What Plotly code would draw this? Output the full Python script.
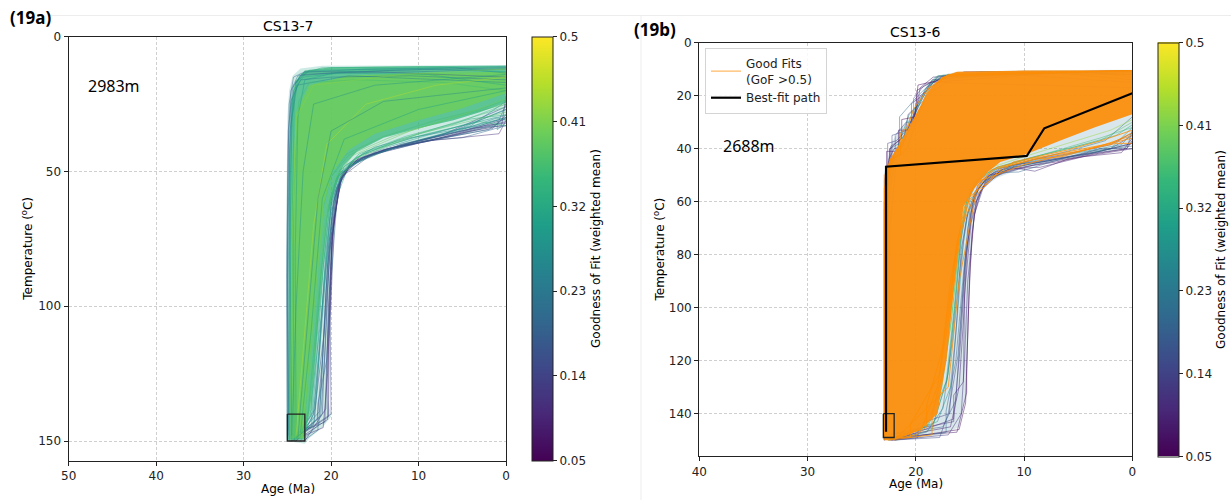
import plotly.graph_objects as go
from plotly.colors import sample_colorscale

W, H = 1231, 500
GOF_MIN, GOF_MAX = 0.05, 0.5
CB_TICKS = [0.05, 0.14, 0.23, 0.32, 0.41, 0.5]
CB_TICKTEXT = ["0.05", "0.14", "0.23", "0.32", "0.41", "0.5"]

# ---------------- CS13-7 (2983 m) ----------------
# constraint box (age Ma, temperature degC)
A_BOX_AGE = [25, 23, 23, 25, 25]
A_BOX_T = [140, 140, 150, 150, 140]

# outer extent of all accepted paths
A_OUT_AGE = [25.1, 25.1, 25.0, 24.8, 24.4, 23.5, 21.0, 10.0, 0.0, 0.0, 0.6, 2.0, 4.0, 7.0, 10.0,
             13.0, 15.5, 17.5, 18.6, 19.3, 19.8, 20.1, 20.3, 20.3, 20.0, 21.0, 22.5, 23.0, 25.1]
A_OUT_T = [150, 60, 30, 20, 14.5, 11.8, 10.8, 10.6, 10.6, 31, 33, 34, 35.5, 37.5, 38.8,
           40.5, 42.5, 46, 52, 60, 75, 95, 120, 135, 141, 145, 149, 151, 150]
A_OUT_GOF = 0.30

# dense core of the path ensemble
A_CORE_AGE = [24.9, 24.8, 24.6, 24.1, 23.0, 20.0, 10.0, 0.0, 0.0, 3.0, 6.0, 10.0, 14.0, 17.0,
              18.6, 19.6, 20.4, 21.0, 21.6, 22.3, 23.0, 24.9]
A_CORE_T = [149.5, 60, 25, 16.5, 12.5, 11.3, 11.0, 11.0, 24.5, 28, 31, 34, 37.5, 42.5,
            48, 56, 66, 85, 110, 135, 149.5, 149.5]
A_CORE_GOF = 0.35

# brightest part of the core
A_INNER_AGE = [24.6, 24.5, 24.0, 22.5, 18.0, 10.0, 0.0, 0.0, 5.0, 10.0, 15.0, 18.0, 19.8,
               20.8, 21.6, 22.5, 23.2, 24.6]
A_INNER_T = [149, 60, 28, 18, 14.5, 13.5, 13, 21, 26.5, 31, 36, 42, 50, 62, 90, 125, 149, 149]
A_INNER_GOF = 0.40

# individual thermal histories: (GoF, ages, temperatures) - lower / right fringe
A_FRINGE = [
    (0.12, [23.6, 20.3, 20.2, 19.8, 19.0, 17.3, 13.0, 8.0, 3.0, 0.0],
           [148, 141, 112, 72, 53, 46.5, 41.5, 38.0, 33.5, 30.5]),
    (0.15, [24.2, 20.0, 20.1, 19.6, 18.7, 16.8, 12.0, 6.5, 2.0, 0.0],
           [149, 140, 105, 66, 51, 45, 40.5, 37, 33, 31.5]),
    (0.18, [23.9, 20.7, 20.5, 20.0, 19.3, 18.0, 14.5, 10.0, 5.0, 1.0, 0.0],
           [147, 143, 120, 80, 56, 48, 43, 39.5, 36, 32.5, 25]),
    (0.10, [24.5, 20.9, 20.4, 19.9, 18.9, 17.0, 12.5, 9.0, 4.0, 0.5, 0.0],
           [150, 145, 125, 75, 52, 45.5, 41, 38.5, 35, 33, 22]),
    (0.22, [23.3, 21.3, 20.8, 20.3, 19.5, 18.3, 15.0, 11.0, 6.0, 0.0],
           [146, 139, 110, 78, 57, 49, 43, 40, 35, 27]),
    (0.14, [24.0, 21.6, 21.0, 20.4, 19.6, 18.5, 16.0, 12.0, 7.0, 0.0],
           [150, 142, 120, 85, 60, 50, 44, 40.5, 36, 26]),
    (0.25, [23.5, 22.0, 21.3, 20.6, 19.9, 19.0, 16.5, 11.0, 4.0, 0.0],
           [149, 140, 115, 80, 60, 51, 45, 39.5, 33, 24]),
    (0.20, [23.2, 21.5, 21.5, 20.5, 20.0, 19.2, 17.8, 14.0, 9.0, 5.0, 0.0],
           [150, 146, 136, 120, 90, 55, 47, 42, 38.5, 37.5, 33]),
    (0.30, [23.0, 22.2, 22.2, 21.0, 20.0, 18.0, 12.0, 6.0, 0.0],
           [145, 145, 134, 100, 65, 48, 40, 35, 30]),
    (0.16, [24.6, 22.0, 21.8, 20.8, 20.0, 18.8, 15.5, 10.0, 1.5, 0.0],
           [150, 144, 137, 110, 75, 52, 44, 39.5, 34, 29]),
    (0.13, [23.0, 20.6, 20.3, 19.7, 18.8, 16.5, 12.0, 7.0, 2.5, 0.0],
           [150, 138, 100, 68, 52, 45, 40, 36.5, 33, 32]),
    (0.19, [24.3, 21.2, 20.7, 20.2, 19.4, 17.8, 14.0, 9.5, 4.5, 0.0],
           [149, 141, 118, 82, 57, 47.5, 42, 38, 34.5, 30]),
    (0.24, [23.7, 21.8, 21.2, 20.5, 19.7, 18.6, 15.5, 10.5, 5.5, 0.0],
           [148, 138, 112, 84, 61, 50, 44, 39, 35, 29]),
    (0.11, [24.1, 20.4, 20.3, 19.9, 19.1, 17.6, 13.5, 8.5, 0.8, 0.0],
           [150, 142, 115, 76, 55, 46.5, 41.5, 38.5, 36, 31]),
    (0.17, [23.4, 21.0, 20.8, 20.2, 19.3, 17.9, 14.8, 9.0, 3.5, 0.0],
           [147, 140, 122, 80, 56, 47.5, 42.5, 38, 33.8, 33]),
    (0.21, [23.1, 21.4, 21.1, 20.6, 19.8, 18.7, 16.2, 12.5, 8.0, 2.0, 0.0],
           [149, 144, 128, 95, 62, 50.5, 44.5, 41, 38, 34.5, 30]),
    (0.26, [23.5, 22.0, 21.0, 20.0, 18.5, 15.0, 11.0, 3.0, 1.0, 1.0, 0.0],
           [150, 140, 100, 62, 48, 41, 37.5, 33, 31, 34.5, 32]),
    (0.36, [24.1, 22.6, 21.9, 21.2, 20.4, 19.4, 17.2, 12.5, 7.0, 2.0, 0.0],
           [150, 139, 114, 89, 66, 53, 45, 38.5, 33, 28, 26]),
    (0.39, [23.9, 22.9, 22.3, 21.7, 21.0, 20.0, 18.0, 13.0, 6.0, 0.0],
           [149, 136, 110, 85, 64, 52, 44, 37, 30, 25]),
    (0.33, [24.3, 22.4, 21.8, 21.1, 20.3, 19.3, 16.8, 11.5, 4.0, 0.0],
           [150, 141, 117, 88, 63, 51.5, 43.5, 37, 30.5, 29]),
    (0.29, [23.8, 22.1, 21.5, 20.9, 20.1, 19.1, 16.4, 11.0, 5.0, 1.2, 0.0],
           [148, 139, 113, 86, 62, 51, 43.5, 37.8, 33, 30, 31]),
    (0.41, [24.5, 23.0, 22.4, 21.8, 21.1, 20.2, 18.2, 14.0, 8.0, 3.0, 0.0],
           [150, 140, 115, 90, 66, 53, 43.5, 37, 31, 27, 23.5]),
    (0.34, [23.7, 22.2, 21.6, 20.9, 20.1, 19.0, 16.0, 9.0, 3.0, 0.0],
           [149, 138, 112, 85, 60, 49.5, 42.5, 36, 31.5, 33]),
]

# histories running through the core and along the upper / left edge
A_CORE_PATHS = [
    (0.35, [23.6, 22.3, 21.7, 21.0, 20.2, 19.2, 17.0, 12.0, 6.0, 0.0],
           [149, 137, 112, 88, 64, 52, 44.5, 38, 32.5, 25]),
    (0.28, [24.4, 21.9, 21.4, 20.8, 20.0, 18.9, 16.0, 10.0, 3.0, 0.0],
           [150, 143, 120, 90, 63, 51, 43.5, 37.5, 31, 27]),
    (0.40, [24.2, 22.8, 22.2, 21.6, 20.9, 19.9, 17.5, 11.0, 5.0, 0.0],
           [150, 140, 115, 90, 68, 54, 44, 35, 29, 23]),
    (0.38, [24.0, 22.5, 22.0, 21.4, 20.7, 19.7, 17.0, 10.0, 0.0],
           [149, 140, 120, 95, 70, 55, 45, 36, 28]),
    (0.22, [24.8, 25.0, 24.9, 24.6, 23.8, 20.0, 10.0, 0.0],
           [150, 100, 40, 20, 14.5, 13.5, 13.0, 12.0]),
    (0.28, [24.5, 24.7, 24.5, 24.0, 22.5, 12.0, 0.0],
           [148, 80, 30, 17, 12.5, 12, 11]),
    (0.18, [25.0, 25.0, 24.8, 24.3, 23.0, 15.0, 0.0],
           [149, 70, 25, 15, 13, 13, 15]),
    (0.33, [24.2, 24.4, 24.2, 23.6, 21.0, 0.0],
           [150, 60, 22, 14, 11.5, 10.8]),
    (0.25, [24.9, 24.9, 24.7, 23.9, 18.0, 0.0],
           [146, 90, 35, 18, 14.5, 17]),
    (0.30, [24.0, 24.1, 23.8, 23.0, 19.0, 8.0, 0.0],
           [149, 80, 30, 16, 13, 12, 13]),
    (0.27, [24.8, 24.8, 24.3, 23.0, 16.0, 6.0, 0.0],
           [150, 45, 18, 13.2, 12.0, 11.5, 13.5]),
    (0.23, [24.9, 25.0, 24.6, 23.5, 20.0, 11.0, 0.0],
           [148, 80, 24, 16, 15, 14.5, 16]),
    (0.31, [24.6, 24.7, 24.3, 23.2, 19.0, 9.0, 0.0],
           [150, 55, 20, 15, 13.5, 14, 18]),
    (0.36, [24.3, 24.3, 23.7, 22.5, 17.0, 7.0, 0.0],
           [149, 60, 24, 17, 16, 17, 20]),
    (0.20, [25.0, 25.1, 24.9, 24.4, 23.4, 13.0, 0.0],
           [150, 90, 35, 19, 14, 12.5, 11.5]),
    (0.28, [24.5, 24.0, 23.2, 22.0, 15.0, 0.0],
           [150, 100, 50, 25, 18, 14]),
    (0.45, [24.0, 23.0, 22.0, 20.5, 16.0, 8.0, 0.0],
           [148, 110, 70, 40, 25, 18, 15]),
    (0.26, [23.8, 22.5, 21.5, 20.0, 14.0, 0.0],
           [149, 100, 60, 35, 24, 19]),
    (0.42, [24.7, 24.5, 24.0, 22.0, 12.0, 0.0],
           [150, 80, 30, 18, 14, 12]),
    (0.30, [23.5, 22.3, 21.0, 18.5, 10.0, 0.0],
           [147, 110, 60, 38, 27, 20]),
]

# ---------------- CS13-6 (2688 m) ----------------
B_BOX_AGE = [23, 22, 22, 23, 23]
B_BOX_T = [140, 140, 149, 149, 140]

B_BEST_AGE = [22.75, 22.75, 9.75, 8.13, 0.0]
B_BEST_T = [146.8, 46.8, 42.75, 32.3, 19.1]

B_OUT_AGE = [23.0, 23.0, 22.6, 22.3, 21.5, 20.5, 19.8, 18.8, 17.5, 16.0, 10.0, 0.0, 0.0, 0.5,
             2.0, 5.0, 8.0, 10.5, 12.5, 13.8, 14.4, 14.8, 15.1, 15.3, 15.3, 16.0, 17.5, 20.0,
             22.5, 23.0]
B_OUT_T = [150, 50, 45, 38, 33, 28, 22, 15, 12, 11, 10.4, 10.2, 38, 39.5, 41, 43, 45.5, 48,
           51, 55, 62, 72, 97, 123, 132, 145, 148, 149.5, 150, 150]
B_OUT_GOF = 0.22

# envelope of the good fits (GoF > 0.5)
B_GOOD_AGE = [22.9, 22.9, 22.4, 21.3, 20.5, 19.6, 18.8, 17.6, 16.2, 10.0, 0.0, 0.0, 3.5, 6.7,
              9.75, 12.2, 13.4, 14.6, 15.6, 15.9, 16.6, 17.3, 18.0, 19.5, 21.0, 22.0, 22.9]
B_GOOD_T = [150, 50, 44, 37, 31, 24, 18, 13, 11, 10.5, 10.4, 27, 32, 37, 42, 45, 49, 55, 62,
            72, 97, 123, 140, 146, 148.5, 149.5, 150]

# fringe histories (GoF < 0.5) on the fast-cooling side
B_FRINGE = [
    (0.08, [22.5, 16.2, 15.3, 15.3, 15.1, 14.8, 14.4, 13.5, 12.0, 10.0, 6.0, 3.0, 0.0],
           [149, 147, 132, 123, 97, 72, 60, 52, 48, 45.5, 43, 41, 38]),
    (0.12, [22.0, 17.0, 15.8, 15.5, 15.2, 14.6, 13.8, 12.5, 9.0, 5.0, 2.0, 0.0],
           [150, 148, 140, 120, 90, 65, 55, 50, 46, 43, 40, 35]),
    (0.18, [22.4, 17.5, 16.3, 15.9, 15.5, 15.0, 14.0, 12.0, 8.0, 4.0, 0.0],
           [148, 145, 135, 110, 85, 63, 53, 48, 44.5, 42, 38]),
    (0.28, [22.0, 18.0, 16.8, 16.2, 15.6, 15.0, 13.5, 11.0, 7.0, 2.0, 0.0],
           [149, 143, 130, 105, 75, 60, 51, 47, 44, 40, 32]),
    (0.38, [21.8, 18.5, 17.0, 16.4, 15.8, 15.2, 14.0, 11.5, 8.0, 3.0, 0.0],
           [150, 146, 125, 100, 70, 58, 50, 46, 42, 37, 30]),
    (0.10, [22.6, 16.5, 16.5, 15.6, 15.5, 14.9, 14.2, 13.0, 10.5, 9.0, 6.0, 0.0],
           [148, 143, 133, 128, 95, 68, 57, 50, 47.5, 48.5, 44, 40]),
    (0.15, [22.2, 17.8, 17.0, 16.1, 15.4, 14.7, 13.6, 11.0, 5.0, 0.5, 0.0],
           [150, 149, 140, 118, 80, 62, 53, 47, 42.5, 40, 33]),
    (0.22, [21.5, 19.0, 17.5, 16.6, 15.9, 15.3, 14.5, 12.8, 10.0, 6.0, 2.5, 0.0],
           [149, 147, 138, 112, 85, 66, 56, 49, 45, 41, 37, 28]),
    (0.06, [22.3, 16.0, 15.4, 15.2, 15.0, 14.6, 14.0, 13.0, 11.5, 9.5, 7.0, 3.5, 0.5, 0.0],
           [150, 146, 136, 110, 85, 65, 56, 51, 48, 46.5, 45, 42, 40, 37]),
    (0.09, [22.1, 16.8, 16.0, 15.6, 15.3, 14.9, 14.2, 13.2, 11.0, 8.5, 4.5, 1.0, 0.0],
           [149, 145, 130, 105, 80, 64, 55, 50, 47.5, 47, 43, 41.5, 36]),
    (0.11, [21.9, 16.5, 16.4, 15.9, 15.4, 14.8, 14.3, 13.6, 12.2, 9.0, 6.0, 2.0, 0.0],
           [150, 142, 138, 115, 83, 62, 54, 51, 47.5, 44, 42, 38.5, 34]),
    (0.32, [22.5, 18.8, 17.2, 16.5, 15.9, 15.3, 14.4, 12.5, 9.5, 5.5, 1.5, 0.0],
           [150, 144, 128, 102, 76, 60, 52, 47, 43.5, 39.5, 35, 31]),
    (0.43, [22.0, 19.5, 17.8, 16.8, 16.1, 15.6, 14.8, 13.0, 10.0, 6.0, 2.0, 0.0],
           [149, 146, 133, 108, 80, 63, 53, 47, 43, 38, 33, 29]),
    (0.20, [22.6, 17.2, 17.2, 16.3, 15.7, 15.2, 14.6, 13.8, 12.0, 10.5, 7.5, 4.0, 0.0],
           [150, 147, 139, 120, 92, 70, 58, 53, 49, 48.8, 45, 41, 39]),
    (0.14, [22.4, 19.8, 19.8, 16.9, 16.3, 15.8, 15.2, 14.4, 13.2, 11.0, 8.0, 5.0, 3.0, 0.0],
           [150, 149, 144, 140, 110, 78, 64, 56, 50, 46, 44.8, 42.5, 40, 40]),
    (0.36, [22.3, 19.0, 17.6, 16.7, 16.0, 15.4, 14.6, 12.8, 9.8, 6.0, 3.0, 0.0],
           [150, 145, 130, 104, 77, 61, 53, 47.5, 44, 39.5, 36, 32]),
    (0.26, [22.1, 18.4, 17.1, 16.4, 15.8, 15.2, 14.3, 12.4, 9.0, 4.5, 1.0, 0.0],
           [149, 144, 127, 101, 74, 60, 52, 47.5, 44.5, 41, 38.5, 34]),
]

# fringe histories on the early-cooling (upper left) side
B_UPPER = [
    (0.10, [22.9, 22.9, 22.5, 21.0, 20.5, 19.5, 18.5, 10.0, 0.0],
           [149, 60, 45, 37, 30, 22, 14, 11.5, 11]),
    (0.15, [22.8, 22.7, 22.2, 22.2, 20.8, 20.0, 19.0, 17.5, 5.0, 0.0],
           [148, 55, 42, 35, 33, 25, 17, 12.5, 11, 12]),
    (0.20, [22.9, 22.8, 22.4, 21.5, 21.5, 19.8, 18.8, 17.0, 8.0, 0.0],
           [150, 70, 40, 38, 28, 20, 16, 12, 11, 14]),
    (0.30, [22.7, 22.6, 22.0, 20.5, 19.2, 18.2, 12.0, 0.0],
           [147, 65, 45, 32, 18, 13, 11, 11]),
    (0.12, [22.9, 22.8, 22.3, 22.3, 21.2, 20.2, 19.6, 18.0, 0.0],
           [150, 60, 46, 39, 36, 28, 20, 15, 17]),
    (0.25, [22.5, 22.4, 21.8, 20.8, 20.0, 19.0, 16.5, 0.0],
           [146, 70, 44, 40, 30, 20, 13, 10.5]),
    (0.07, [22.9, 22.9, 22.7, 22.7, 21.6, 21.6, 20.6, 19.9, 19.9, 18.6, 6.0, 0.0],
           [150, 60, 50, 41, 41, 33, 33, 25, 18, 15, 11, 10.5]),
    (0.17, [22.8, 22.8, 22.4, 21.9, 21.9, 20.9, 20.2, 20.2, 19.2, 17.3, 4.0, 0.0],
           [149, 65, 48, 43, 35, 30, 30, 21, 16, 13, 11, 13]),
    (0.09, [22.9, 22.8, 22.5, 22.0, 21.2, 20.7, 19.9, 19.6, 18.4, 10.0, 0.0],
           [150, 58, 44, 40, 39, 27, 24, 17, 13, 11.5, 12]),
    (0.27, [22.7, 22.7, 22.2, 21.4, 20.6, 19.3, 18.3, 16.2, 3.0, 0.0],
           [148, 62, 46, 36, 27, 22, 14, 12, 11, 10.5]),
    (0.13, [22.9, 22.9, 22.6, 22.6, 21.8, 20.4, 20.4, 19.4, 17.9, 13.0, 0.0],
           [150, 52, 47, 38, 37, 31, 23, 20, 12.5, 11.5, 15]),
    (0.33, [22.6, 22.6, 21.9, 21.0, 20.3, 19.1, 18.0, 14.0, 0.0],
           [147, 60, 42, 34, 26, 19, 12.5, 11, 12]),
    (0.05, [22.9, 22.9, 22.4, 22.4, 21.3, 21.3, 20.1, 19.8, 17.7, 15.5, 0.0],
           [149, 63, 45, 40, 36, 29, 28, 16, 14, 11, 10.8]),
]

# good-fit histories (GoF > 0.5) that reach beyond the dense band
B_GOOD_PATHS = [
    ([22.5, 18.5, 18.5, 17.2, 16.6, 15.8, 14.0, 10.0, 4.0, 0.0],
     [150, 148, 140, 120, 95, 70, 52, 46, 40, 36]),
    ([22.8, 20.5, 20.5, 17.8, 16.8, 15.5, 13.0, 7.0, 2.0, 0.0],
     [149, 149, 144, 125, 90, 62, 48, 42, 38, 34]),
    ([22.9, 22.9, 22.0, 21.0, 20.2, 19.0, 17.0, 5.0, 0.0],
     [148, 55, 42, 35, 25, 18, 12.5, 11, 10.5]),
    ([22.0, 17.0, 16.0, 14.5, 12.0, 9.0, 6.5, 3.0, 0.0],
     [150, 130, 90, 58, 47, 44, 43, 39, 35]),
    ([22.8, 19.5, 18.0, 17.0, 16.2, 14.8, 12.5, 9.0, 5.0, 1.5, 0.0],
     [150, 146, 130, 105, 75, 55, 47, 43.5, 41, 38, 38]),
    ([22.6, 20.0, 19.0, 19.0, 17.5, 16.3, 15.0, 11.0, 6.0, 2.5, 0.0],
     [150, 148, 145, 137, 115, 80, 58, 45, 40.5, 36.5, 33]),
    ([22.9, 22.9, 22.3, 21.4, 21.4, 20.3, 19.5, 18.8, 17.0, 4.0, 0.0],
     [150, 55, 44, 42, 34, 30, 24, 17, 12, 10.8, 10.5]),
]

GOOD_LINE = "rgba(255,140,0,0.85)"
GOOD_FILL = "rgba(250,145,18,0.97)"
FONT = "DejaVu Sans"
INK = "#222222"


def vcolor(g, alpha=1.0):
    t = min(max((g - GOF_MIN) / (GOF_MAX - GOF_MIN), 0.0), 1.0)
    r, gg, b = sample_colorscale("Viridis", [t], colortype="tuple")[0]
    return f"rgba({r * 255:.0f},{gg * 255:.0f},{b * 255:.0f},{alpha})"


fig = go.Figure()


def line(ages, temps, color, width, xa, ya, **kw):
    fig.add_trace(go.Scatter(x=ages, y=temps, mode="lines",
                             line=dict(color=color, width=width),
                             xaxis=xa, yaxis=ya, hoverinfo="skip",
                             showlegend=kw.pop("showlegend", False), **kw))


def area(ages, temps, color, xa, ya):
    fig.add_trace(go.Scatter(x=ages, y=temps, mode="lines", fill="toself",
                             fillcolor=color, line=dict(width=0),
                             xaxis=xa, yaxis=ya, hoverinfo="skip", showlegend=False))


# panel a: CS13-7
area(A_OUT_AGE, A_OUT_T, vcolor(A_OUT_GOF, 0.22), "x", "y")
for g, ag, tt in A_FRINGE:
    line(ag, tt, vcolor(g, 0.6), 0.8, "x", "y")
area(A_CORE_AGE, A_CORE_T, vcolor(A_CORE_GOF, 0.75), "x", "y")
area(A_INNER_AGE, A_INNER_T, vcolor(A_INNER_GOF, 0.8), "x", "y")
for g, ag, tt in A_CORE_PATHS:
    line(ag, tt, vcolor(g, 0.55), 0.8, "x", "y")
line(A_BOX_AGE, A_BOX_T, INK, 1.3, "x", "y")

# panel b: CS13-6
area(B_OUT_AGE, B_OUT_T, vcolor(B_OUT_GOF, 0.18), "x2", "y2")
for g, ag, tt in B_FRINGE + B_UPPER:
    line(ag, tt, vcolor(g, 0.6), 0.8, "x2", "y2")
area(B_GOOD_AGE, B_GOOD_T, GOOD_FILL, "x2", "y2")
for i, (ag, tt) in enumerate(B_GOOD_PATHS):
    line(ag, tt, GOOD_LINE, 0.9, "x2", "y2",
         showlegend=(i == 0), name="Good Fits<br>(GoF >0.5)", legendrank=1)
line(B_BOX_AGE, B_BOX_T, INK, 1.3, "x2", "y2")
line(B_BEST_AGE, B_BEST_T, "black", 2.2, "x2", "y2",
     showlegend=True, name="Best-fit path", legendrank=2)

# colour bars
for xa, ya, x0, top, bot in [("x", "y", 532, 36.7, 460.7), ("x2", "y2", 1157.7, 42.7, 456.3)]:
    fig.add_trace(go.Scatter(
        x=[None], y=[None], mode="markers", xaxis=xa, yaxis=ya, showlegend=False,
        hoverinfo="skip",
        marker=dict(color=[GOF_MIN], colorscale="Viridis", cmin=GOF_MIN, cmax=GOF_MAX,
                    showscale=True,
                    colorbar=dict(x=x0 / W, xanchor="left", y=1 - (top + bot) / 2 / H,
                                  yanchor="middle", len=(bot - top) / H, lenmode="fraction",
                                  thickness=21, thicknessmode="pixels", xpad=0, ypad=0,
                                  outlinecolor=INK, outlinewidth=1,
                                  tickvals=CB_TICKS, ticktext=CB_TICKTEXT,
                                  ticks="outside", ticklen=4, tickcolor=INK,
                                  tickfont=dict(family=FONT, size=12, color=INK)))))

axis_style = dict(showline=True, mirror=True, linecolor=INK, linewidth=1.3,
                  ticks="outside", ticklen=4, tickcolor=INK, tickwidth=1,
                  tickfont=dict(family=FONT, size=12, color=INK),
                  showgrid=True, gridcolor="#cfcfcf", griddash="3px,2px", gridwidth=1,
                  zeroline=False, automargin=False)

fig.update_layout(
    width=W, height=H, autosize=False,
    margin=dict(l=0, r=0, t=0, b=0, pad=0),
    paper_bgcolor="white", plot_bgcolor="white",
    xaxis=dict(domain=[68.7 / W, 506 / W], range=[50, 0], anchor="y",
               tickvals=[50, 40, 30, 20, 10, 0], **axis_style),
    yaxis=dict(domain=[1 - 460.7 / H, 1 - 36.7 / H], range=[157.3, 0], anchor="x",
               tickvals=[0, 50, 100, 150], **axis_style),
    xaxis2=dict(domain=[699.3 / W, 1132.3 / W], range=[40, 0], anchor="y2",
                tickvals=[40, 30, 20, 10, 0], **axis_style),
    yaxis2=dict(domain=[1 - 456.3 / H, 1 - 42.7 / H], range=[156.1, 0], anchor="x2",
                tickvals=[0, 20, 40, 60, 80, 100, 120, 140], **axis_style),
    legend=dict(x=705 / W, y=1 - 48 / H, xanchor="left", yanchor="top",
                bgcolor="rgba(255,255,255,0.85)", bordercolor="#d4d4d4", borderwidth=1,
                font=dict(family=FONT, size=12, color=INK), itemwidth=30,
                tracegroupgap=0),
    showlegend=True,
)


def text(x, y, s, size=12, angle=0, family=FONT, xanchor="center", xref="paper", yref="paper"):
    if xref == "paper":
        x, y = x / W, 1 - y / H
    fig.add_annotation(x=x, y=y, xref=xref, yref=yref, text=s, showarrow=False,
                       textangle=angle, xanchor=xanchor, yanchor="middle",
                       font=dict(family=family, size=size, color="black"))


text(8, 17.5, "<b>(19a)</b>", 17, family="Noto Sans", xanchor="left")
text(632, 29, "<b>(19b)</b>", 17, family="Noto Sans", xanchor="left")
text(287.5, 25.5, "CS13-7", 14)
text(915.8, 31.7, "CS13-6", 14)
text(287.5, 489, "Age (Ma)")
text(915.8, 484, "Age (Ma)")
text(27, 248.7, "Temperature (<sup>o</sup>C)", angle=-90)
text(658, 249.5, "Temperature (<sup>o</sup>C)", angle=-90)
text(596, 249, "Goodness of Fit (weighted mean)", angle=-90)
text(1221, 250, "Goodness of Fit (weighted mean)", angle=-90)
text(48.0, 18.3, "2983m", 16, family="Noto Sans", xanchor="left", xref="x", yref="y")
text(38.0, 39.0, "2688m", 16, family="Noto Sans", xanchor="left", xref="x2", yref="y2")

# faint frame lines around the figure panels
fig.add_shape(type="line", xref="paper", yref="paper", x0=50 / W, x1=1, y0=1 - 15.5 / H,
              y1=1 - 15.5 / H, line=dict(color="#ededed", width=1))
fig.add_shape(type="line", xref="paper", yref="paper", x0=641 / W, x1=641 / W, y0=0,
              y1=1 - 15.5 / H, line=dict(color="#ededed", width=1))

fig.write_html("out.html")
